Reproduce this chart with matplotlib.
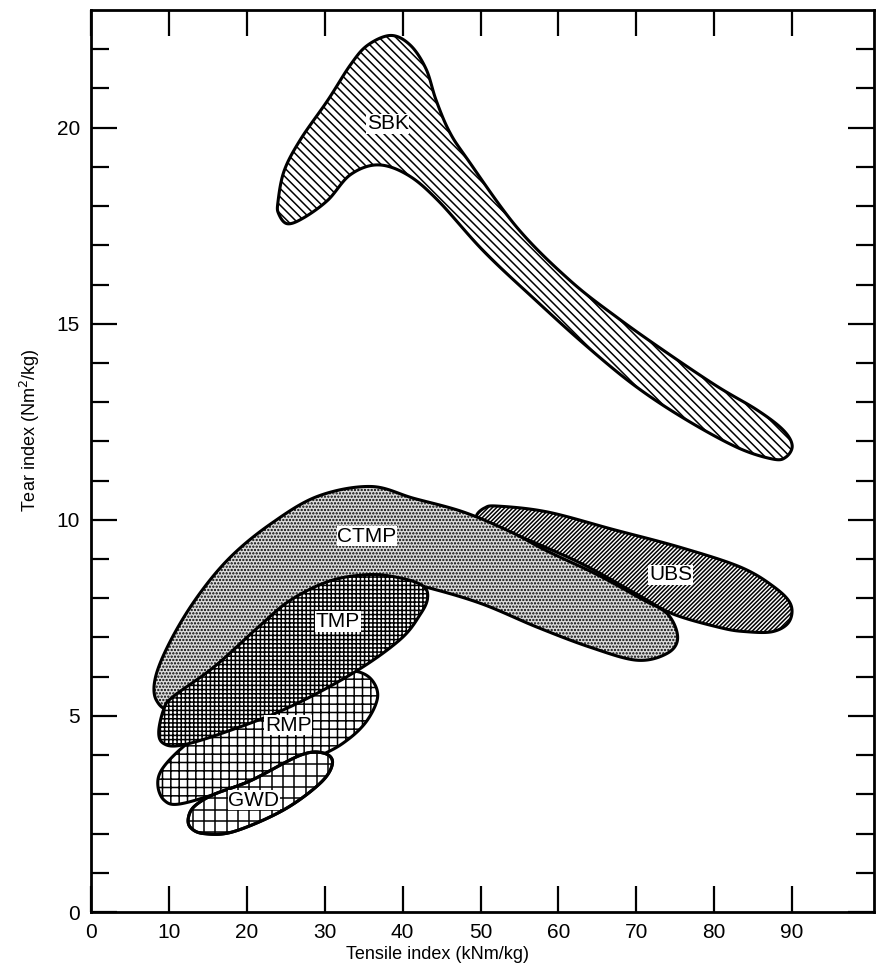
import numpy as np
import matplotlib.pyplot as plt
from matplotlib.patches import Polygon

plt.rcParams["font.family"] = ["Liberation Sans", "DejaVu Sans"]
plt.rcParams["hatch.linewidth"] = 1.1

# outline points (tensile index, tear index)
sbk_x = [24.0, 24.8, 26.9, 30.4, 33.3, 35.5, 38.5, 41.0, 43.0, 44.3, 46.0, 48.3, 54.7, 61.5,
         67.6, 74.0, 80.4, 85.5, 88.8, 90.0, 89.2, 87.5, 82.9, 76.0, 69.6, 63.2, 56.8, 50.4,
         44.5, 40.6, 36.8, 33.3, 30.4, 27.3, 25.2, 24.1]
sbk_y = [18.1, 18.9, 19.7, 20.7, 21.6, 22.1, 22.35, 22.1, 21.5, 20.7, 19.9, 19.2, 17.45, 16.1,
         15.15, 14.25, 13.4, 12.8, 12.3, 11.9, 11.6, 11.55, 11.85, 12.6, 13.45, 14.5, 15.65, 16.85,
         18.15, 18.8, 19.05, 18.8, 18.15, 17.7, 17.55, 17.8]

ubs_x = [49.5, 50.5, 52.2, 58.6, 67.1, 75.6, 83.3, 87.6, 89.8, 89.6, 87.5, 84.0, 80.8, 74.7,
         70.1, 62.8, 54.2, 50.5]
ubs_y = [10.1, 10.3, 10.35, 10.2, 9.75, 9.3, 8.8, 8.3, 7.85, 7.4, 7.15, 7.15, 7.25, 7.6,
         8.1, 8.9, 9.65, 9.95]

ctmp_x = [8.4, 8.3, 10.3, 13.7, 17.9, 23.1, 29.1, 35.9, 41.4, 47.8, 53.8, 58.6, 65.0, 70.5,
          74.0, 75.3, 74.0, 70.1, 64.1, 57.3, 50.0, 42.7, 35.9, 28.6, 22.2, 15.8, 10.6]
ctmp_y = [5.4, 6.0, 6.95, 8.05, 9.05, 9.9, 10.6, 10.85, 10.55, 10.2, 9.7, 9.2, 8.6, 8.0,
          7.6, 7.0, 6.6, 6.42, 6.75, 7.26, 7.87, 8.3, 8.6, 8.15, 7.2, 6.0, 5.2]

rmp_x = [8.6, 9.0, 11.2, 14.5, 20.0, 26.0, 30.5, 33.7, 35.9, 36.8, 35.5, 33.0, 29.5, 22.0,
         15.8, 11.2, 9.4]
rmp_y = [3.2, 3.6, 4.1, 4.6, 5.2, 5.8, 6.1, 6.15, 5.95, 5.5, 4.9, 4.4, 4.0, 3.45,
         3.0, 2.75, 2.85]

gwd_x = [12.5, 13.3, 15.8, 20.5, 26.9, 29.9, 31.0, 29.5, 24.7, 18.3, 14.5, 12.8]
gwd_y = [2.4, 2.7, 3.0, 3.35, 4.0, 4.05, 3.8, 3.3, 2.6, 2.05, 2.0, 2.15]

tmp_x = [8.7, 9.4, 10.6, 15.8, 21.4, 25.6, 30.8, 35.9, 40.1, 42.7, 43.2, 42.3, 39.7, 33.7,
         25.2, 16.7, 11.5, 9.3]
tmp_y = [4.6, 5.2, 5.5, 6.25, 7.25, 7.95, 8.45, 8.6, 8.5, 8.3, 8.0, 7.6, 6.95, 6.1,
         5.2, 4.55, 4.25, 4.3]

names = ["SBK", "UBS", "CTMP", "RMP", "GWD", "TMP"]
label_x = [38.1, 74.4, 35.4, 25.3, 20.9, 31.7]
label_y = [20.1, 8.6, 9.58, 4.76, 2.85, 7.41]

x_ticks = [0, 10, 20, 30, 40, 50, 60, 70, 80, 90]
y_ticks = [0, 5, 10, 15, 20]


def closed_curve(xs, ys, n=24):
    # periodic Catmull-Rom through the outline points
    p = np.column_stack([xs, ys])
    m = len(p)
    out = []
    t = np.linspace(0, 1, n, endpoint=False)[:, None]
    for i in range(m):
        p0, p1, p2, p3 = p[i - 1], p[i], p[(i + 1) % m], p[(i + 2) % m]
        seg = 0.5 * ((2 * p1) + (-p0 + p2) * t + (2 * p0 - 5 * p1 + 4 * p2 - p3) * t ** 2
                     + (-p0 + 3 * p1 - 3 * p2 + p3) * t ** 3)
        out.append(seg)
    return np.vstack(out)


fig = plt.figure(figsize=(8.78, 9.77), dpi=100)
ax = fig.add_axes([0.1036, 0.0665, 0.8918, 0.9233])

regions = [
    (sbk_x, sbk_y, "\\" * 4, "white"),
    (ubs_x, ubs_y, "/" * 8, "white"),
    (ctmp_x, ctmp_y, ".....", "#dcdcdc"),
    (rmp_x, rmp_y, "++", "white"),
    (gwd_x, gwd_y, None, "white"),
    (tmp_x, tmp_y, "++++", "white"),
]

for i, (xs, ys, hatch, fc) in enumerate(regions):
    poly = Polygon(closed_curve(xs, ys), closed=True, facecolor=fc, edgecolor="black",
                   hatch=hatch, linewidth=2.2, zorder=2 + i)
    ax.add_patch(poly)
    if hatch is None:
        # coarse grid for GWD, clipped to the outline
        gx = np.arange(0, 40, 1.45)
        gy = np.arange(0, 6, 0.29)
        vl = ax.vlines(gx, 0, 6, colors="black", linewidth=1.1, zorder=2 + i)
        hl = ax.hlines(gy, 0, 40, colors="black", linewidth=1.1, zorder=2 + i)
        vl.set_clip_path(poly)
        hl.set_clip_path(poly)
        edge = Polygon(closed_curve(xs, ys), closed=True, facecolor="none",
                       edgecolor="black", linewidth=2.2, zorder=2 + i)
        ax.add_patch(edge)

for name, lx, ly in zip(names, label_x, label_y):
    ax.text(lx, ly, name, ha="center", va="center", fontsize=15, zorder=20,
            bbox=dict(facecolor="white", edgecolor="none", pad=0.5))

ax.set_xlim(0, 100.5)
ax.set_ylim(0, 23)
ax.set_xticks(x_ticks)
ax.set_yticks(y_ticks)
ax.set_yticks(np.arange(0, 23, 1), minor=True)
ax.tick_params(axis="both", which="major", direction="in", length=19, width=1.6,
               labelsize=15, top=True, right=True, pad=8)
ax.tick_params(axis="y", which="minor", direction="in", length=13, width=1.6,
               left=True, right=True)
for s in ax.spines.values():
    s.set_linewidth(2.0)

ax.set_xlabel("Tensile index (kNm/kg)", fontsize=13, labelpad=8)
ax.xaxis.set_label_coords(0.443, -0.038)
ax.set_ylabel("Tear index (Nm$^2$/kg)", fontsize=13, labelpad=8)
ax.yaxis.set_label_coords(-0.062, 0.534)

fig.savefig("out.png", dpi=100)
